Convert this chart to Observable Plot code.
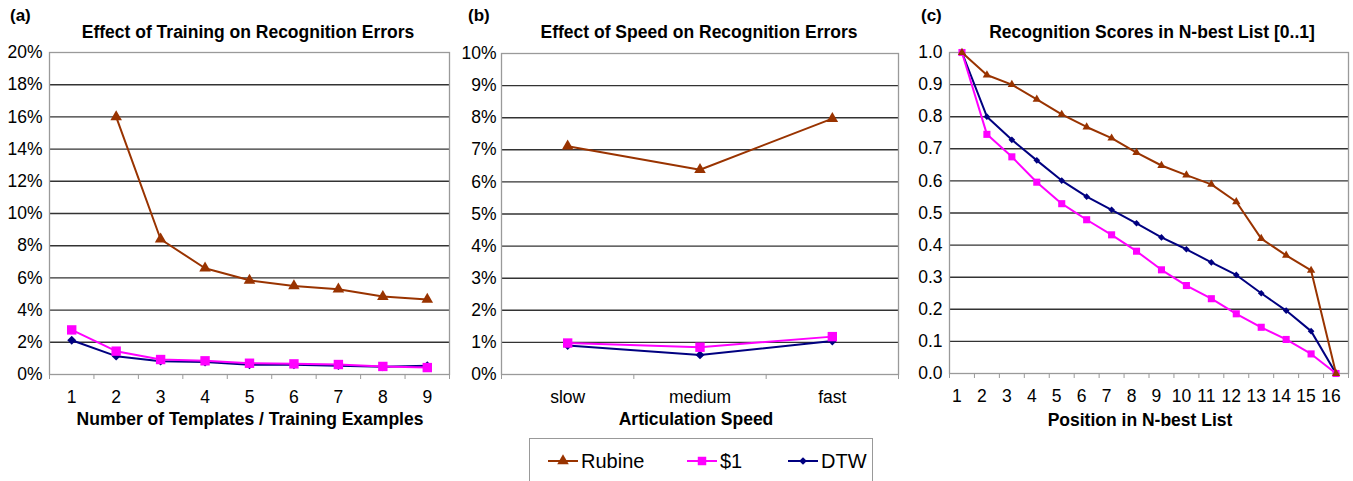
<!DOCTYPE html>
<html><head><meta charset="utf-8">
<script src="https://cdn.jsdelivr.net/npm/d3@7"></script>
<script src="https://cdn.jsdelivr.net/npm/@observablehq/plot@0.6"></script>
<style>
body{margin:0;background:#fff;}
#wrap{position:relative;width:1353px;height:481px;overflow:hidden;font-family:"Liberation Sans",Arial,sans-serif;color:#000;background:#fff}
.panel{position:absolute;top:0}
.t{position:absolute;transform:translate(-50%,-50%);white-space:nowrap;font-weight:bold;font-size:17.5px}
.lab{position:absolute;transform:translate(0,-50%);white-space:nowrap;font-weight:bold;font-size:17px}
#legend{position:absolute;left:529px;top:438px;width:344px;height:60px;border:1px solid #999;box-sizing:border-box;background:#fff}
</style></head>
<body><div id="wrap"></div>
<script>
// ---- series definitions ----
const seriesNames = ["Rubine", "$1", "DTW"];
const seriesColors = ["#993300", "#ff00ff", "#000080"];
const seriesSymbols = ["triangle", "square", "diamond2"];

// ---- (a) Effect of Training on Recognition Errors (%) ----
const trainingN = [1, 2, 3, 4, 5, 6, 7, 8, 9];
const trainRubine = [null, 16.0, 8.4, 6.6, 5.85, 5.5, 5.3, 4.84, 4.66];
const trainDollar = [2.77, 1.45, 0.93, 0.85, 0.70, 0.66, 0.62, 0.50, 0.43];
const trainDTW = [2.13, 1.14, 0.83, 0.77, 0.60, 0.60, 0.55, 0.48, 0.54];
const trainYTicks = [0, 2, 4, 6, 8, 10, 12, 14, 16, 18, 20];

// ---- (b) Effect of Speed on Recognition Errors (%) ----
const speedCategories = ["slow", "medium", "fast"];
const speedRubine = [7.11, 6.38, 7.97];
const speedDollar = [0.98, 0.85, 1.18];
const speedDTW = [0.90, 0.61, 1.04];
const speedYTicks = [0, 1, 2, 3, 4, 5, 6, 7, 8, 9, 10];

// ---- (c) Recognition Scores in N-best List [0..1] ----
const nbestPos = [1, 2, 3, 4, 5, 6, 7, 8, 9, 10, 11, 12, 13, 14, 15, 16];
const nbestRubine = [1.0, 0.93, 0.90, 0.854, 0.807, 0.768, 0.733, 0.688, 0.648, 0.618, 0.589, 0.535, 0.42, 0.368, 0.321, 0.0];
const nbestDollar = [1.0, 0.745, 0.675, 0.596, 0.529, 0.479, 0.432, 0.381, 0.323, 0.274, 0.233, 0.186, 0.144, 0.106, 0.061, 0.0];
const nbestDTW = [1.0, 0.80, 0.728, 0.664, 0.601, 0.551, 0.51, 0.468, 0.424, 0.387, 0.346, 0.307, 0.25, 0.196, 0.132, 0.0];
const nbestYTicks = [0, 0.1, 0.2, 0.3, 0.4, 0.5, 0.6, 0.7, 0.8, 0.9, 1.0];

const wrap = document.getElementById("wrap");

function makePanel(cfg) {
  const rows = [];
  cfg.values.forEach((vals, si) => {
    vals.forEach((v, i) => rows.push({x: i + 1, y: v, s: si}));
  });
  const n = cfg.values[0].length;
  const bounds = d3.range(0.5, n + 1, 1);
  const order = [2, 1, 0];
  const marks = [
    Plot.gridY(cfg.yTicks.slice(1, -1), {stroke: "#333", strokeOpacity: 1, strokeWidth: 1.4}),
    Plot.frame({stroke: "#9a9a9a", strokeWidth: 1.3}),
    Plot.axisY({ticks: cfg.yTicks, tickFormat: cfg.yFormat, tickSize: 0, tickPadding: cfg.yPad, label: null, fill: "#000"}),
    Plot.axisX({ticks: bounds, tickSize: 5, tickFormat: () => "", stroke: "#9a9a9a", label: null}),
    Plot.axisX({ticks: d3.range(1, n + 1), tickFormat: cfg.xFormat, tickSize: 0, tickPadding: 16, dx: cfg.labelDx || 0, label: null, fill: "#000"})
  ];
  for (const si of order) {
    const data = rows.filter(d => d.s === si);
    marks.push(Plot.line(data, {x: "x", y: "y", stroke: seriesColors[si], strokeWidth: 2}));
    marks.push(Plot.dot(data, {x: "x", y: "y", symbol: () => seriesSymbols[si], r: cfg.r[si], fill: seriesColors[si], stroke: "none"}));
  }
  const svg = Plot.plot({
    width: cfg.width, height: 440,
    marginLeft: cfg.mL, marginRight: cfg.mR, marginTop: cfg.mT, marginBottom: cfg.mB,
    x: {domain: [0.5, n + 0.5], label: null},
    y: {domain: cfg.yDomain, label: null},
    symbol: {type: "identity"},
    style: {fontFamily: '"Liberation Sans", Arial, sans-serif', fontSize: "17.5px", color: "#000", background: "transparent", overflow: "visible"},
    marks
  });
  const div = document.createElement("div");
  div.className = "panel";
  div.style.left = cfg.left + "px";
  div.appendChild(svg);
  wrap.appendChild(div);
}

makePanel({
  left: 0, width: 450, mL: 49, mR: 1, mT: 52, mB: 66,
  values: [trainRubine, trainDollar, trainDTW],
  yDomain: [0, 20], yTicks: trainYTicks, yFormat: d => d + "%", yPad: 7,
  xFormat: i => String(trainingN[i - 1]),
  r: [4.3, 5.3, 4.0]
});
makePanel({
  left: 450, width: 450, mL: 51, mR: 2, mT: 53, mB: 66,
  values: [speedRubine, speedDollar, speedDTW],
  yDomain: [0, 10], yTicks: speedYTicks, yFormat: d => d + "%", yPad: 5,
  xFormat: i => speedCategories[i - 1],
  r: [4.3, 5.3, 4.0]
});
makePanel({
  left: 900, width: 453, mL: 49, mR: 5, mT: 52, mB: 67,
  values: [nbestRubine, nbestDollar, nbestDTW],
  yDomain: [0, 1], yTicks: nbestYTicks, yFormat: d3.format(".1f"), yPad: 7,
  xFormat: i => String(nbestPos[i - 1]), labelDx: -5,
  r: [3.1, 4.0, 3.0]
});

// ---- texts ----
const texts = [
  {c: "lab", x: 10, y: 16, s: "(a)"},
  {c: "lab", x: 468, y: 16, s: "(b)"},
  {c: "lab", x: 921, y: 16, s: "(c)"},
  {c: "t", x: 248, y: 32, s: "Effect of Training on Recognition Errors"},
  {c: "t", x: 699, y: 32, s: "Effect of Speed on Recognition Errors"},
  {c: "t", x: 1152, y: 32, s: "Recognition Scores in N-best List [0..1]"},
  {c: "t", x: 250, y: 419, s: "Number of Templates / Training Examples"},
  {c: "t", x: 696, y: 419, s: "Articulation Speed"},
  {c: "t", x: 1140, y: 420, s: "Position in N-best List"}
];
for (const t of texts) {
  const d = document.createElement("div");
  d.className = t.c;
  d.style.left = t.x + "px";
  d.style.top = t.y + "px";
  d.textContent = t.s;
  wrap.appendChild(d);
}

// ---- legend ----
const leg = document.createElement("div");
leg.id = "legend";
wrap.appendChild(leg);
const lsvg = d3.select(leg).append("svg").attr("width", 342).attr("height", 58)
  .style("font-family", '"Liberation Sans", Arial, sans-serif');
const legX = [18, 157, 258];
const legSym = [d3.symbolTriangle, d3.symbolSquare, d3.symbolDiamond2];
const legSize = [58, 72, 38];
seriesNames.forEach((name, i) => {
  const g = lsvg.append("g").attr("transform", `translate(${legX[i]},22)`);
  g.append("line").attr("x1", 0).attr("x2", 30).attr("y1", 0).attr("y2", 0)
    .attr("stroke", seriesColors[i]).attr("stroke-width", 2);
  g.append("path").attr("d", d3.symbol(legSym[i], legSize[i])()).attr("transform", "translate(15,0)")
    .attr("fill", seriesColors[i]);
  g.append("text").attr("x", 33).attr("dy", "0.35em").attr("font-size", "20px").attr("fill", "#000").text(name);
});
</script>
</body></html>
